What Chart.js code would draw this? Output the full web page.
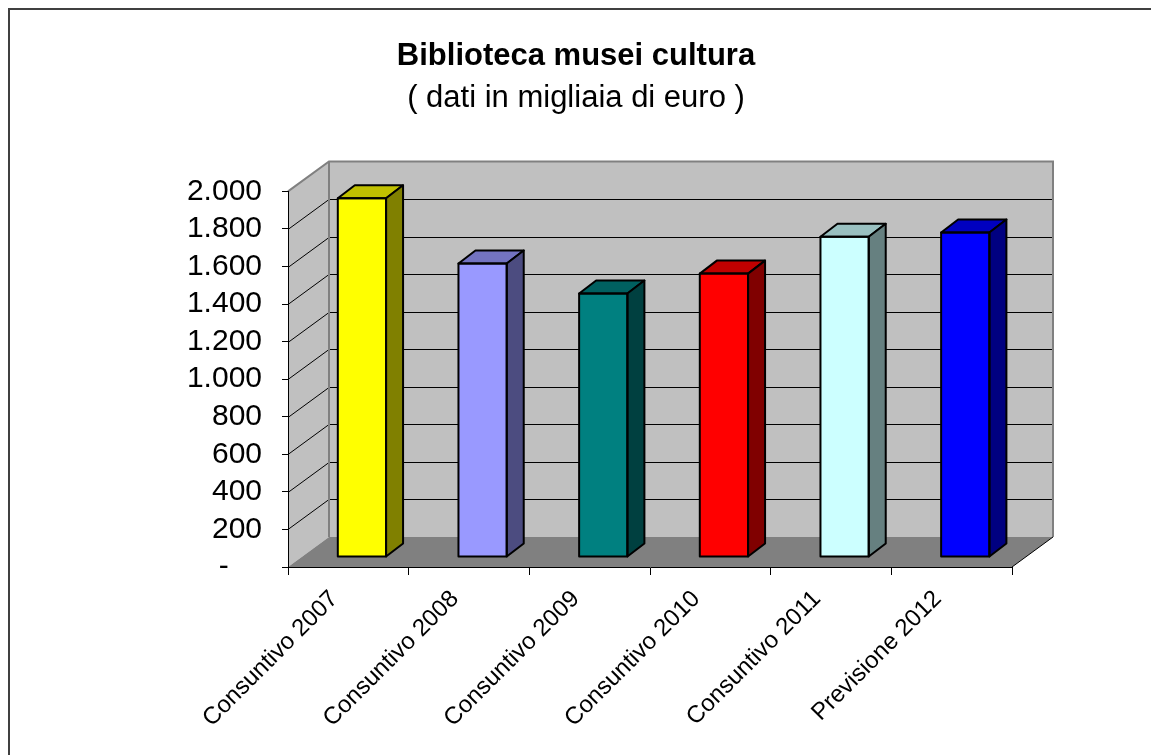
<!DOCTYPE html>
<html>
<head>
<meta charset="utf-8">
<title>Biblioteca musei cultura</title>
<script src="https://cdn.jsdelivr.net/npm/chart.js@4.4.0/dist/chart.umd.min.js"></script>
<style>
  html, body { margin: 0; padding: 0; background: #fff; }
  canvas { display: block; }
</style>
</head>
<body>
<canvas id="barChart" width="1151" height="755"></canvas>
<script>
// dati del grafico
const categorie = ['Consuntivo 2007', 'Consuntivo 2008', 'Consuntivo 2009', 'Consuntivo 2010', 'Consuntivo 2011', 'Previsione 2012'];
const valori = [1910, 1563, 1403, 1509, 1705, 1728];
const yMin = 0;
const yMax = 2000;
const yStep = 200;

// colori stile Excel: faccia frontale, lato, sopra
const coloriFronte = ['#ffff00', '#9999ff', '#008080', '#ff0000', '#ccffff', '#0000ff'];
const coloriLato = ['#808000', '#4c4c80', '#004040', '#800000', '#668080', '#000080'];
const coloriSopra = ['#c0c000', '#7373c0', '#006060', '#c00000', '#99c0c0', '#0000c0'];

const FONT = '"Liberation Sans", Arial, sans-serif';

function formattaNumero(v) {
  if (v === 0) return '-    ';
  return String(v).replace(/\B(?=(\d{3})+(?!\d))/g, '.');
}

// effetto 3D: pareti, pavimento e lati delle barre
const excel3d = {
  id: 'excel3d',
  beforeDraw(chart) {
    const ctx = chart.ctx;
    const area = chart.chartArea;
    const ys = chart.scales.y;
    const DX = 41, DY = -30;
    const L = area.left, R = area.right;
    const T = ys.getPixelForValue(yMax), B = ys.getPixelForValue(yMin);

    ctx.save();
    // cornice esterna
    ctx.strokeStyle = '#404040';
    ctx.lineWidth = 2;
    ctx.beginPath();
    ctx.moveTo(9, 755);
    ctx.lineTo(9, 9);
    ctx.lineTo(1151, 9);
    ctx.stroke();

    // parete sinistra
    ctx.fillStyle = '#c0c0c0';
    ctx.beginPath();
    ctx.moveTo(L, T);
    ctx.lineTo(L + DX, T + DY);
    ctx.lineTo(L + DX, B + DY);
    ctx.lineTo(L, B);
    ctx.closePath();
    ctx.fill();

    // parete di fondo
    ctx.fillRect(L + DX, T + DY, R - L, B - T);

    // pavimento
    ctx.fillStyle = '#808080';
    ctx.beginPath();
    ctx.moveTo(L, B);
    ctx.lineTo(L + DX, B + DY);
    ctx.lineTo(R + DX, B + DY);
    ctx.lineTo(R, B);
    ctx.closePath();
    ctx.fill();

    // griglia
    ctx.strokeStyle = '#000';
    ctx.lineWidth = 1;
    ys.ticks.forEach(t => {
      if (t.value === yMin || t.value === yMax) return;
      const yy = Math.round(ys.getPixelForValue(t.value)) + 0.5;
      ctx.beginPath();
      ctx.moveTo(L, yy);
      ctx.lineTo(L + DX, yy + DY);
      ctx.lineTo(R + DX, yy + DY);
      ctx.stroke();
    });

    // bordi delle pareti
    ctx.strokeStyle = '#808080';
    ctx.lineWidth = 2;
    ctx.beginPath();
    ctx.moveTo(L, T);
    ctx.lineTo(L + DX, T + DY);
    ctx.lineTo(R + DX, T + DY);
    ctx.lineTo(R + DX, B + DY);
    ctx.moveTo(L + DX, T + DY);
    ctx.lineTo(L + DX, B + DY);
    ctx.stroke();

    ctx.strokeStyle = '#000';
    ctx.lineWidth = 1;
    ctx.beginPath();
    ctx.moveTo(R + DX, B + DY);
    ctx.lineTo(R, B);
    ctx.stroke();
    ctx.restore();
  },
  beforeDatasetsDraw(chart) {
    chart.ctx.save();
    chart.ctx.translate(13.6, -10);
  },
  afterDatasetsDraw(chart) {
    const ctx = chart.ctx;
    const bd = 17, bh = 13;
    const meta = chart.getDatasetMeta(0);
    meta.data.forEach((bar, i) => {
      const p = bar.getProps(['x', 'y', 'base', 'width'], true);
      const l = p.x - p.width / 2, r = p.x + p.width / 2;
      const t = p.y, b = p.base;
      ctx.lineWidth = 2;
      ctx.lineJoin = 'round';
      ctx.strokeStyle = '#000';

      // sopra
      ctx.fillStyle = coloriSopra[i];
      ctx.beginPath();
      ctx.moveTo(l, t);
      ctx.lineTo(l + bd, t - bh);
      ctx.lineTo(r + bd, t - bh);
      ctx.lineTo(r, t);
      ctx.closePath();
      ctx.fill();
      ctx.stroke();

      // lato
      ctx.fillStyle = coloriLato[i];
      ctx.beginPath();
      ctx.moveTo(r, t);
      ctx.lineTo(r + bd, t - bh);
      ctx.lineTo(r + bd, b - bh);
      ctx.lineTo(r, b);
      ctx.closePath();
      ctx.fill();
      ctx.stroke();

      // contorno frontale
      ctx.strokeRect(l, t, r - l, b - t);
    });
    ctx.restore();
  }
};

const ctx = document.getElementById('barChart').getContext('2d');
new Chart(ctx, {
  type: 'bar',
  data: {
    labels: categorie,
    datasets: [{
      data: valori,
      backgroundColor: coloriFronte,
      borderWidth: 0,
      categoryPercentage: 1,
      barPercentage: 0.4,
      clip: false
    }]
  },
  options: {
    responsive: false,
    animation: false,
    events: [],
    // padding sinistro = destro + 1 per centrare il titolo sulla pagina
    layout: { padding: { left: 140, right: 139, top: 0, bottom: 0 } },
    plugins: {
      legend: { display: false },
      tooltip: { enabled: false },
      title: {
        display: true,
        text: 'Biblioteca musei cultura',
        color: '#000',
        font: { family: FONT, size: 31, weight: 'bold', lineHeight: 1.2 },
        padding: { top: 38, bottom: 0 }
      },
      subtitle: {
        display: true,
        text: '( dati in migliaia di euro )',
        color: '#000',
        font: { family: FONT, size: 31, weight: 'normal', lineHeight: 1.2 },
        padding: { top: 5, bottom: 74 }
      }
    },
    scales: {
      x: {
        grid: {
          offset: true,
          drawOnChartArea: false,
          drawTicks: true,
          tickLength: 8,
          color: '#000'
        },
        border: { display: true, color: '#000', width: 1 },
        ticks: {
          color: '#000',
          font: { family: FONT, size: 24 },
          minRotation: 45,
          maxRotation: 45,
          padding: 10,
          labelOffset: -14
        },
        afterFit(scale) { scale.height = 188; }
      },
      y: {
        min: yMin,
        max: yMax,
        grid: {
          drawOnChartArea: false,
          drawTicks: true,
          tickLength: 6,
          color: '#000'
        },
        border: { display: true, color: '#000', width: 1 },
        ticks: {
          stepSize: yStep,
          autoSkip: false,
          color: '#000',
          font: { family: FONT, size: 30 },
          padding: 20,
          callback: v => formattaNumero(v)
        },
        afterFit(scale) { scale.width = 148; }
      }
    }
  },
  plugins: [excel3d]
});
</script>
</body>
</html>
